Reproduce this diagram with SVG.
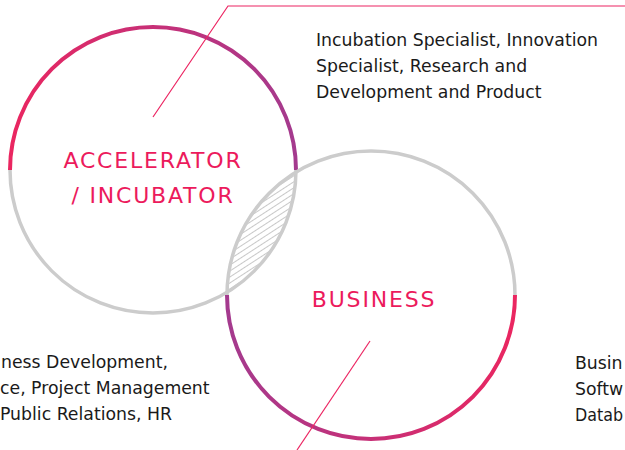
<svg xmlns="http://www.w3.org/2000/svg" width="625" height="450" viewBox="0 0 625 450">
  <defs>
    <linearGradient id="g1" gradientUnits="userSpaceOnUse" x1="10" y1="0" x2="296" y2="0">
      <stop offset="0" stop-color="#ea2660"/>
      <stop offset="1" stop-color="#a43a8e"/>
    </linearGradient>
    <linearGradient id="g2" gradientUnits="userSpaceOnUse" x1="227" y1="0" x2="515" y2="0">
      <stop offset="0" stop-color="#a43a8e"/>
      <stop offset="1" stop-color="#ea2660"/>
    </linearGradient>
    <pattern id="hatch" patternUnits="userSpaceOnUse" width="5" height="5" patternTransform="rotate(-33)">
      <line x1="0" y1="2.5" x2="5" y2="2.5" stroke="#c8c8c8" stroke-width="1"/>
    </pattern>
    <clipPath id="c1"><circle cx="153" cy="170" r="143"/></clipPath>
  </defs>
  <style>
    .gray { fill: none; stroke: #cccccc; stroke-width: 3.5; }
    .arc { fill: none; stroke-width: 4; }
    .lbl { font-family: "DejaVu Sans", sans-serif; font-size: 22px; fill: #ec1a5c; letter-spacing: 1.8px; text-anchor: middle; }
    .txt { font-family: "DejaVu Sans", sans-serif; font-size: 17.3px; fill: #1a1a1a; }
    .conn { fill: none; stroke: #ec2562; stroke-width: 1.2; }
  </style>

  <g id="lens">
    <circle cx="371" cy="295" r="144" fill="url(#hatch)" clip-path="url(#c1)"/>
  </g>

  <g id="accelerator">
    <path class="gray" d="M 296 170 A 143 143 0 0 1 10 170"/>
    <path class="arc" stroke="url(#g1)" d="M 10 170 A 143 143 0 0 1 296 170"/>
    <text class="lbl" x="153" y="168">ACCELERATOR</text>
    <text class="lbl" x="153" y="203">/ INCUBATOR</text>
  </g>

  <g id="business">
    <path class="gray" d="M 227 295 A 144 144 0 0 1 515 295"/>
    <path class="arc" stroke="url(#g2)" d="M 227 295 A 144 144 0 0 0 515 295"/>
    <text class="lbl" x="374" y="307">BUSINESS</text>
  </g>

  <g id="connectors">
    <polyline class="conn" points="153,117 228,6 625,6"/>
    <line class="conn" x1="370" y1="341" x2="297" y2="450"/>
  </g>

  <g id="text-top">
    <text class="txt" x="316" y="46">Incubation Specialist, Innovation</text>
    <text class="txt" x="316" y="72">Specialist, Research and</text>
    <text class="txt" x="316" y="98">Development and Product</text>
  </g>

  <g id="text-left">
    <text class="txt" x="1" y="368">ness Development,</text>
    <text class="txt" x="0" y="394">ce, Project Management</text>
    <text class="txt" x="0" y="420">Public Relations, HR</text>
  </g>

  <g id="text-right">
    <text class="txt" x="575" y="369">Busin</text>
    <text class="txt" x="575" y="395">Softw</text>
    <text class="txt" x="575" y="421" textLength="48" lengthAdjust="spacingAndGlyphs">Datab</text>
  </g>
</svg>
